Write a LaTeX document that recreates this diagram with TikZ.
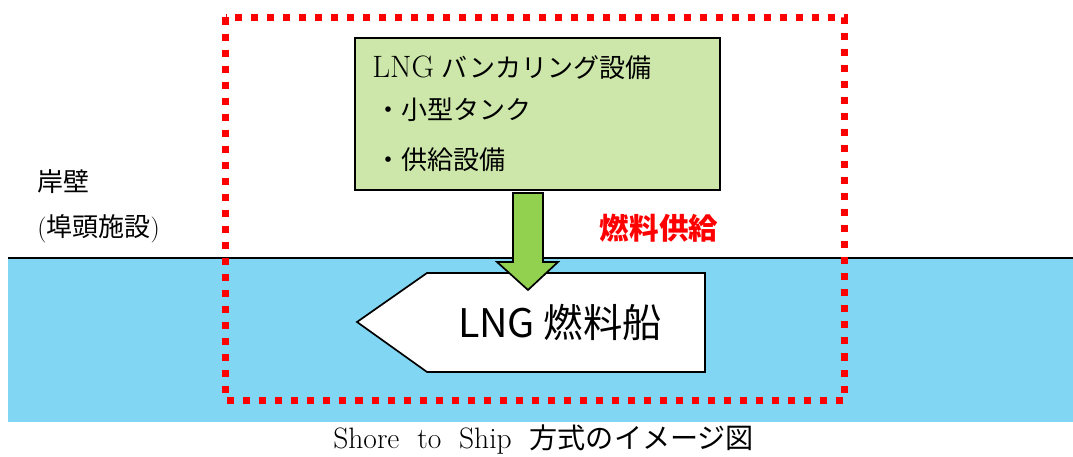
\documentclass[tikz,border=0pt]{standalone}
\usepackage{fontspec}
\newfontfamily\jp{Noto Sans CJK JP}
\usetikzlibrary{positioning}

\definecolor{sea}{RGB}{128,214,243}
\definecolor{boxgreen}{RGB}{204,231,169}
\definecolor{arrowgreen}{RGB}{146,208,80}
\definecolor{dotred}{RGB}{255,0,0}

\begin{document}
\begin{tikzpicture}[x=0.025cm, y=-0.025cm,
    txt/.style={anchor=west, inner sep=0pt, font=\fontsize{18.5}{20}\selectfont},
    edge/.style={draw=black, line width=1.2pt}]
    \useasboundingbox (0,0) rectangle (1073,457);

    % sea and quay line
    \fill[sea] (8,258) rectangle (1073,422);
    \draw[line width=1.4pt] (8,258) -- (1073,258);

    % bunkering facility
    \node[edge, fill=boxgreen, minimum width=9.125cm, minimum height=3.8cm] (bunker) at (537.5,114) {};
    \node[txt] (title) at (372,68) {{\fontsize{22}{24}\selectfont LNG} {\jp バンカリング設備}};
    \node[txt] (tank) at (375,110) {\jp ・小型タンク};
    \node[txt] (supply) at (375,160) {\jp ・供給設備};

    % ship
    \draw[edge, fill=white] (357,322) -- (427,273) -- (705,273) -- (705,372) -- (427,372) -- cycle;
    \node[inner sep=0pt, font=\jp\fontsize{28}{30}\selectfont] (ship) at (560,322) {LNG 燃料船};

    % fuel supply arrow
    \draw[edge, fill=arrowgreen] (513,193) -- (543,193) -- (543,262) -- (558,262)
        -- (528,290) -- (497,262) -- (513,262) -- cycle;
    \node[inner sep=0pt, text=dotred, font=\jp\bfseries\fontsize{21}{23}\selectfont] (fuel) at (659,228) {燃料供給};

    % scope of bunkering
    \draw[dotred, line width=5pt, dash pattern=on 5pt off 6.4pt] (225.5,17.5) rectangle (844.5,400.5);

    % quay labels
    \node[txt] (quay) at (37,182) {\jp 岸壁};
    \node[txt] (pier) at (37,229) {({\jp 埠頭施設})};

    % caption
    \node[anchor=west, inner sep=0pt, font=\fontsize{21}{23}\selectfont] (caption) at (333,440) {Shore\ \ to\ \ Ship\ \ {\jp\fontsize{20}{22}\selectfont 方式のイメージ図}};
\end{tikzpicture}
\end{document}
